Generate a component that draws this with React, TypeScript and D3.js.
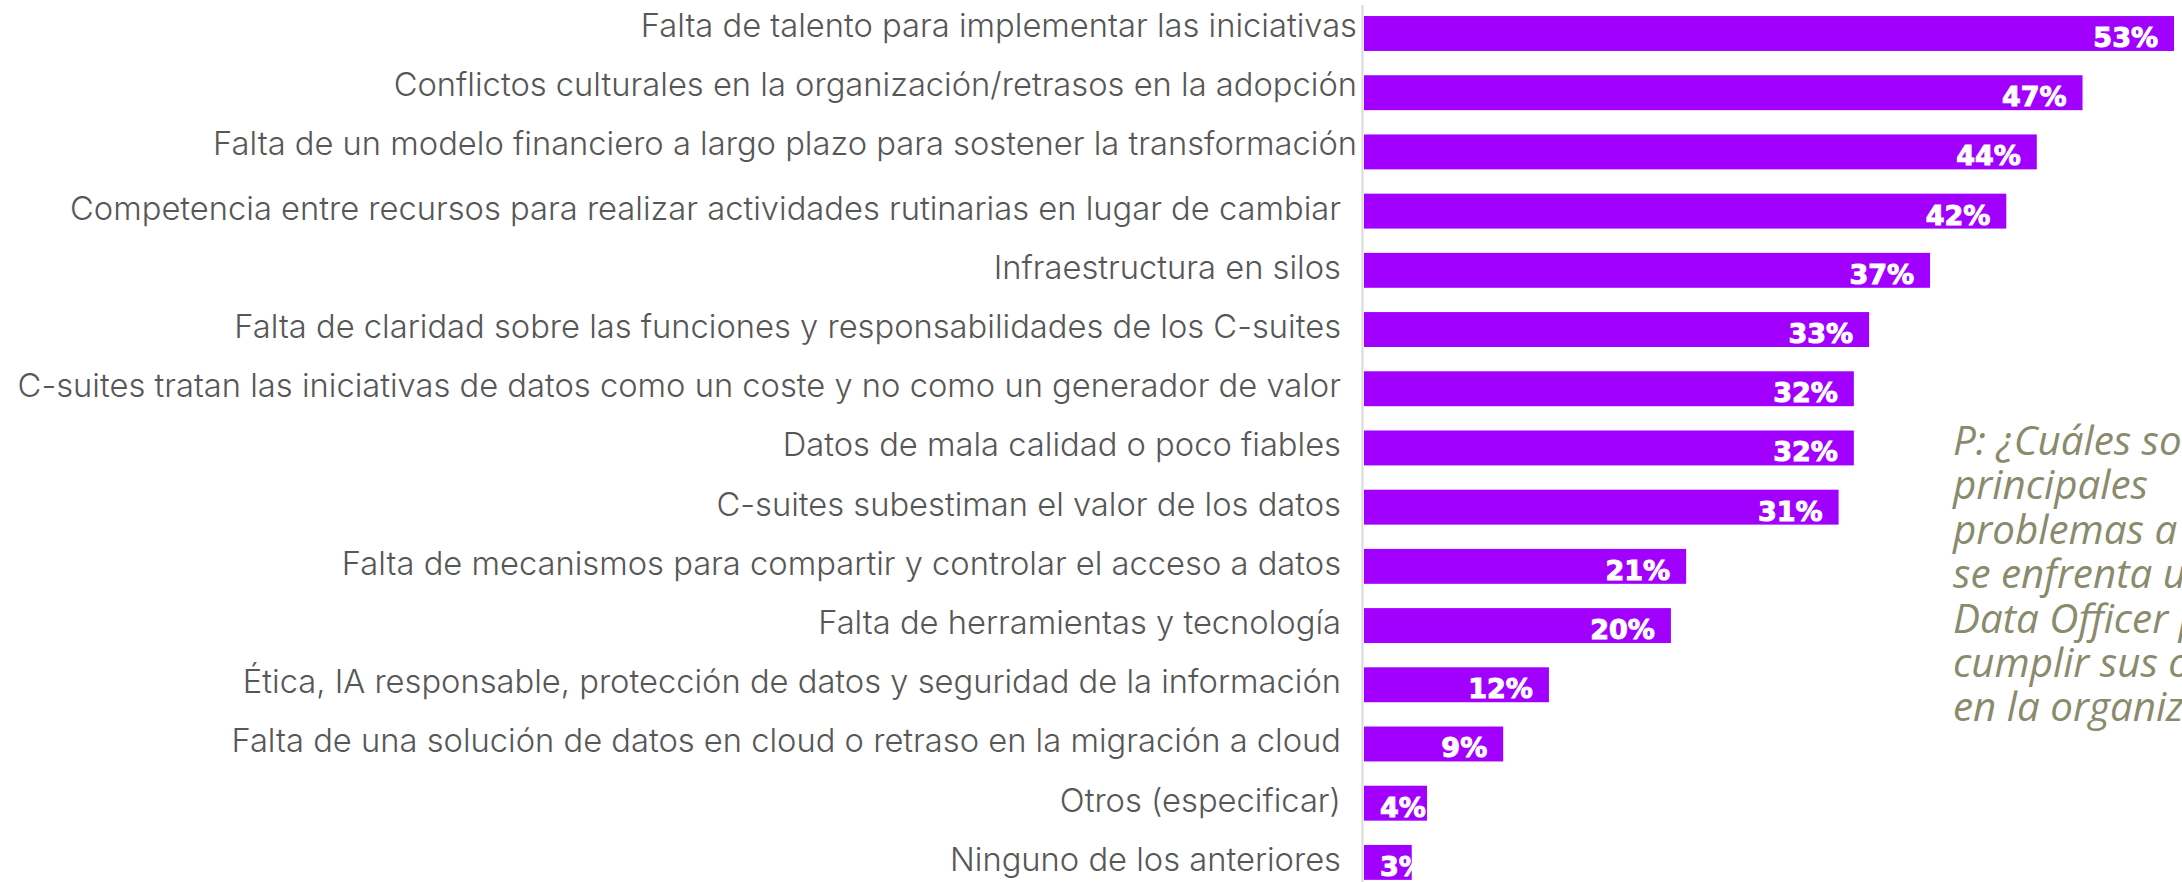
import React, { useEffect, useRef } from "react";
import * as d3 from "d3";

const categories = [
  "Falta de talento para implementar las iniciativas",
  "Conflictos culturales en la organización/retrasos en la adopción",
  "Falta de un modelo financiero a largo plazo para sostener la transformación",
  "Competencia entre recursos para realizar actividades rutinarias en lugar de cambiar",
  "Infraestructura en silos",
  "Falta de claridad sobre las funciones y responsabilidades de los C-suites",
  "C-suites tratan las iniciativas de datos como un coste y no como un generador de valor",
  "Datos de mala calidad o poco fiables",
  "C-suites subestiman el valor de los datos",
  "Falta de mecanismos para compartir y controlar el acceso a datos",
  "Falta de herramientas y tecnología",
  "Ética, IA responsable, protección de datos y seguridad de la información",
  "Falta de una solución de datos en cloud o retraso en la migración a cloud",
  "Otros (especificar)",
  "Ninguno de los anteriores",
];

const values = [53, 47, 44, 42, 37, 33, 32, 32, 31, 21, 20, 12, 9, 4, 3];

const questionLines = [
  "P: ¿Cuáles son los",
  "principales",
  "problemas a los que",
  "se enfrenta un Chief",
  "Data Officer para",
  "cumplir sus objetivos",
  "en la organización?",
];

const W = 2182;
const H = 882;

export default function App() {
  const ref = useRef<SVGSVGElement | null>(null);

  useEffect(() => {
    const svg = d3.select(ref.current);
    svg.selectAll("*").remove();

    const x = d3.scaleLinear().domain([0, 53]).range([1366, 2174]);
    const y = d3
      .scaleBand<string>()
      .domain(categories)
      .range([3.9, 892])
      .paddingInner(0.41)
      .paddingOuter(0.205);

    // axis line
    svg
      .append("line")
      .attr("x1", 1362.5)
      .attr("x2", 1362.5)
      .attr("y1", 5)
      .attr("y2", H)
      .attr("stroke", "#d9d9d9")
      .attr("stroke-width", 2);

    // bars
    const x0 = 1364;
    svg
      .append("g")
      .selectAll("rect")
      .data(values)
      .join("rect")
      .attr("x", x0)
      .attr("y", (_, i) => y(categories[i])!)
      .attr("width", (d) => x(d) - x0)
      .attr("height", y.bandwidth())
      .attr("fill", "#a100ff");

    // category labels (font size fitted to the reference width)
    const labelFamily = "Inter, 'Noto Sans', sans-serif";
    const probe = svg
      .append("text")
      .attr("font-family", labelFamily)
      .attr("font-weight", 350)
      .attr("font-size", 30)
      .text(categories[6]);
    const pw = (probe.node() as SVGTextElement).getComputedTextLength();
    probe.remove();
    const labelSize = (30 * 1324) / pw;

    svg
      .append("g")
      .selectAll("text")
      .data(categories)
      .join("text")
      .attr("x", (_, i) => (i < 3 ? 1357 : 1341))
      .attr("y", (d, i) => y(d)! + y.bandwidth() / 2 + (i < 3 ? 3.5 : 8.5))
      .attr("text-anchor", "end")
      .attr("font-family", labelFamily)
      .attr("font-weight", 350)
      .attr("font-size", labelSize)
      .attr("fill", "#575757")
      .text((d) => d);

    // value labels
    const vg = svg.append("g");
    values.forEach((v, i) => {
      const t = vg
        .append("text")
        .attr("font-family", "'DejaVu Sans', sans-serif")
        .attr("font-weight", 700)
        .attr("font-size", 27)
        .attr("fill", "#ffffff")
        .attr("stroke", "#ffffff")
        .attr("stroke-width", 1)
        .attr("y", y(categories[i])! + y.bandwidth() / 2 + 13.5)
        .text(`${v}%`);
      const w = (t.node() as SVGTextElement).getComputedTextLength();
      const xs = Math.max(x(v) - 16 - w, x0 + 16);
      t.attr("x", xs);
    });

    // question annotation
    const qFamily = "'Open Sans', sans-serif";
    const qp = svg
      .append("text")
      .attr("font-family", qFamily)
      .attr("font-style", "italic")
      .attr("font-size", 30)
      .text(questionLines[1]);
    const qw = (qp.node() as SVGTextElement).getComputedTextLength();
    qp.remove();
    const qSize = (30 * 195) / qw;

    svg
      .append("g")
      .selectAll("text")
      .data(questionLines)
      .join("text")
      .attr("x", 1953)
      .attr("y", (_, i) => 455 + i * 44.4)
      .attr("font-family", qFamily)
      .attr("font-style", "italic")
      .attr("font-size", qSize)
      .attr("fill", "#8a8a6c")
      .text((d) => d);
  }, []);

  return (
    <svg
      ref={ref}
      width={W}
      height={H}
      style={{ position: "absolute", left: 0, top: 0, display: "block", background: "#ffffff" }}
    />
  );
}
